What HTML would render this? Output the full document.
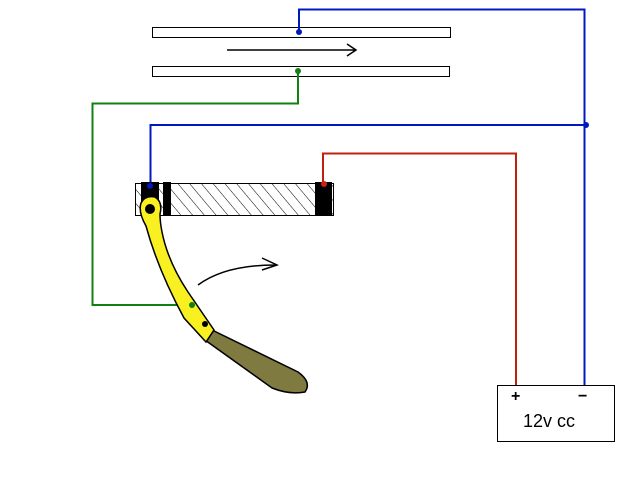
<!DOCTYPE html>
<html><head><style>body{margin:0;background:#fff}svg{display:block}</style></head><body>
<svg width="640" height="480" viewBox="0 0 640 480" xmlns="http://www.w3.org/2000/svg">
<defs><pattern id="h" width="9" height="9" patternUnits="userSpaceOnUse" patternTransform="rotate(-40)"><line x1="0" y1="0" x2="0" y2="9" stroke="#000" stroke-width="1"/></pattern></defs>
<rect width="640" height="480" fill="#fff"/>
<rect x="152.5" y="27.5" width="298" height="10" fill="#fff" stroke="#000"/>
<rect x="152.5" y="66.5" width="297" height="10" fill="#fff" stroke="#000"/>
<path d="M227 50 H355 M347 44 L356 50 L347 56" fill="none" stroke="#000" stroke-width="1.5"/>
<path d="M299 32 V9.5 H584.5 V385" fill="none" stroke="#0018c0" stroke-width="2"/>
<path d="M584 125 H150.5 V186" fill="none" stroke="#0018c0" stroke-width="2"/>
<circle cx="299" cy="32" r="3" fill="#0018c0"/>
<circle cx="586" cy="125" r="3" fill="#0018c0"/>
<path d="M298 71 V103.5 H92.5 V305 H192" fill="none" stroke="#108010" stroke-width="2"/>
<circle cx="298" cy="71" r="3" fill="#108010"/>
<path d="M323 185 V153.5 H516 V385" fill="none" stroke="#c02010" stroke-width="2"/>
<rect x="135.5" y="183.5" width="198" height="32" fill="url(#h)" stroke="#000"/>
<rect x="141" y="182" width="18" height="34" fill="#000"/>
<rect x="163" y="182" width="8" height="34" fill="#000"/>
<rect x="315" y="182" width="17" height="34" fill="#000"/>
<circle cx="150" cy="186" r="3" fill="#0018c0"/>
<circle cx="324" cy="184" r="3" fill="#d02010"/>
<path d="M208 328 L298 372 Q312 382 305 392 Q290 395 272 388 L205 340 Z" fill="#7e7a40" stroke="#000" stroke-width="1.5"/>
<path d="M141 203 Q145 195 155 197 Q163 202 160 214 Q160 222 162 232 Q168 262 188 292 L214 330 L206 342 L184 318 Q158 270 146 226 Q138 212 141 203 Z" fill="#f8f020" stroke="#000" stroke-width="1.5"/>
<circle cx="150" cy="209" r="5" fill="#000"/>
<circle cx="192" cy="305" r="3" fill="#108010"/>
<circle cx="205" cy="324" r="3" fill="#000"/>
<path d="M198 285 Q225 265 275 265 M262 258 L277 265 L262 270" fill="none" stroke="#000" stroke-width="1.5"/>
<rect x="497.5" y="385.5" width="117" height="56" fill="#fff" stroke="#000"/>
<text x="511" y="401" font-family="Liberation Sans,sans-serif" font-size="16" font-weight="bold">+</text>
<text x="578" y="401" font-family="Liberation Sans,sans-serif" font-size="16" font-weight="bold">−</text>
<text x="523" y="427" font-family="Liberation Sans,sans-serif" font-size="18">12v cc</text>
</svg>
</body></html>
